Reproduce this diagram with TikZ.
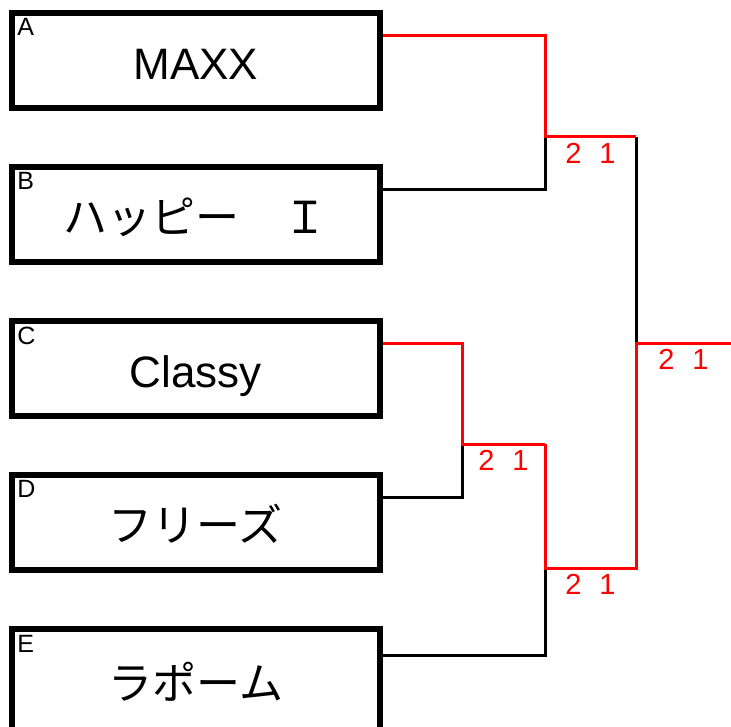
\documentclass[tikz,border=0pt]{standalone}
\usepackage{fontspec}
\setmainfont{Liberation Sans}
\newfontfamily\jpfont{Noto Sans CJK JP}
\usetikzlibrary{positioning}
\begin{document}
\begin{tikzpicture}[
        x=0.5pt, y=-0.5pt,
        node distance=26.75pt,
        team/.style={draw, line width=2.8pt, rectangle, minimum width=184pt, minimum height=47.5pt, inner sep=0pt, font=\fontsize{22pt}{26pt}\selectfont, text height=19pt, text depth=0pt},
        tag/.style={anchor=north west, inner sep=0pt, font=\fontsize{12.5pt}{15pt}\selectfont},
        score/.style={anchor=north, inner sep=2.5pt, text=red, font=\fontsize{14.5pt}{17pt}\selectfont},
        win/.style={draw=red, line width=1.5pt},
        lose/.style={draw=black, line width=1.5pt}
    ]
    \useasboundingbox (0,0) rectangle (731,726);
    \clip (0,0) rectangle (731,726);
    \node[team, anchor=north west] (A) at (9,10) {MAXX};
    \node[team, below=of A] (B) {\jpfont ハッピー　Ｉ};
    \node[team, below=of B] (C) {Classy};
    \node[team, below=of C] (D) {\jpfont フリーズ};
    \node[team, below=of D, minimum height=51.5pt] (E) {\jpfont ラポーム};
    \foreach \t in {A,B,C,D,E}
        \node[tag] at ([shift={(4pt,-4pt)}]\t.north west) {\t};
    \coordinate (ab) at (545,137);
    \coordinate (cd) at (462,444);
    \coordinate (cde) at (545,568);
    \coordinate (fin) at (636,343);
    \coordinate (out) at (731,343);
    \draw[lose] ([yshift=12.5pt]B.east) -| (ab);
    \draw[lose] (ab -| fin) -- (fin);
    \draw[lose] ([yshift=12.5pt]D.east) -| (cd);
    \draw[lose] ([yshift=12.5pt]E.east) -| (cde);
    \draw[win] ([yshift=12.5pt]A.east) -| (ab) -- node[score] {2\hspace{0.62em}1} (ab -| fin);
    \draw[win] ([yshift=12.5pt]C.east) -| (cd) -- node[score] {2\hspace{0.62em}1} (cd -| cde);
    \draw[win] (cd -| cde) -- (cde) -- node[score] {2\hspace{0.62em}1} (cde -| fin) -- (fin) -- node[score] {2\hspace{0.62em}1} (out);
\end{tikzpicture}
\end{document}
